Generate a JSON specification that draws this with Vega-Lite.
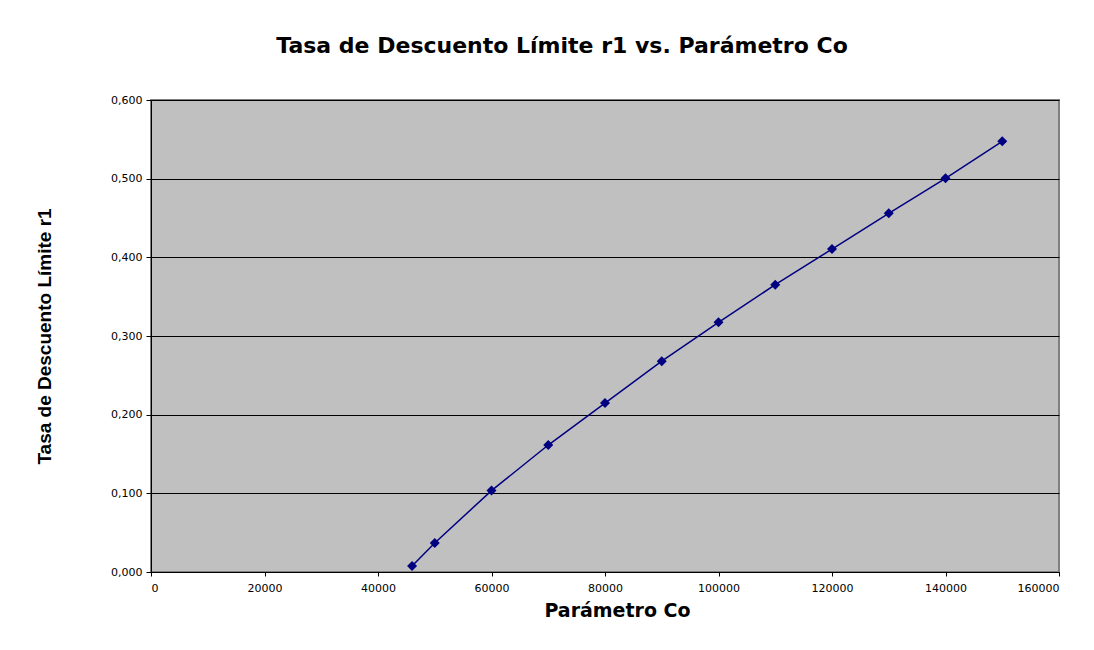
{
  "$schema": "https://vega.github.io/schema/vega-lite/v6.json",
  "width": 908,
  "height": 472,
  "autosize": {"type": "none"},
  "padding": {"left": 151, "top": 100, "right": 35, "bottom": 78},
  "background": "white",
  "config": {
    "locale": {"number": {"decimal": ",", "thousands": ".", "grouping": [3], "currency": ["", " €"]}},
    "view": {"fill": "#C0C0C0", "stroke": "#808080", "strokeWidth": 2},
    "font": "DejaVu Sans"
  },
  "title": {
    "text": "Tasa de Descuento Límite r1  vs. Parámetro Co",
    "fontSize": 22,
    "fontWeight": "bold",
    "font": "DejaVu Sans",
    "color": "black",
    "anchor": "middle",
    "dx": -43,
    "offset": 36
  },
  "data": {
    "values": [
      {"co": 46000, "r1": 0.0076},
      {"co": 50000, "r1": 0.0369},
      {"co": 60000, "r1": 0.1035},
      {"co": 70000, "r1": 0.1614},
      {"co": 80000, "r1": 0.2148},
      {"co": 90000, "r1": 0.2680},
      {"co": 100000, "r1": 0.3174},
      {"co": 110000, "r1": 0.3652},
      {"co": 120000, "r1": 0.4105},
      {"co": 130000, "r1": 0.4559},
      {"co": 140000, "r1": 0.5005},
      {"co": 150000, "r1": 0.5475}
    ]
  },
  "encoding": {
    "x": {
      "field": "co",
      "type": "quantitative",
      "scale": {"domain": [0, 160000], "nice": false, "zero": false},
      "axis": {
        "title": "Parámetro Co",
        "values": [0, 20000, 40000, 60000, 80000, 100000, 120000, 140000, 160000],
        "format": "d",
        "grid": false,
        "domainColor": "black",
        "tickColor": "black",
        "tickSize": 4,
        "labelFont": "DejaVu Sans",
        "labelFontSize": 11,
        "labelColor": "black",
        "labelPadding": 6,
        "titleFont": "DejaVu Sans",
        "titleFontSize": 19,
        "titleFontWeight": "bold",
        "titleColor": "black",
        "titlePadding": 8,
        "titleX": 466
      }
    },
    "y": {
      "field": "r1",
      "type": "quantitative",
      "scale": {"domain": [0, 0.6], "nice": false},
      "axis": {
        "title": "Tasa de Descuento Límite r1",
        "values": [0, 0.1, 0.2, 0.3, 0.4, 0.5, 0.6],
        "format": ".3f",
        "grid": true,
        "gridColor": "black",
        "gridWidth": 1,
        "domainColor": "black",
        "tickColor": "black",
        "tickSize": 5,
        "labelFont": "DejaVu Sans",
        "labelFontSize": 11,
        "labelColor": "black",
        "labelPadding": 4,
        "titleFont": "Liberation Sans",
        "titleFontSize": 19,
        "titleFontWeight": "bold",
        "titleColor": "black",
        "titlePadding": 56
      }
    }
  },
  "layer": [
    {"mark": {"type": "line", "color": "#000080", "strokeWidth": 1.5}},
    {"mark": {"type": "point", "shape": "diamond", "filled": true, "color": "#000080", "opacity": 1, "size": 100}}
  ]
}
